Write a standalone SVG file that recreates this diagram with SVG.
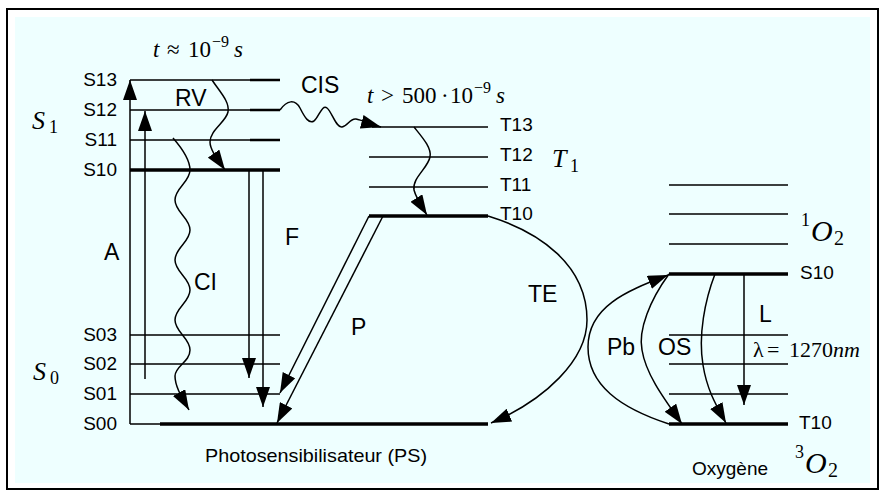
<svg xmlns="http://www.w3.org/2000/svg" width="885" height="491" viewBox="0 0 885 491">
<defs>
<marker id="ah" viewBox="0 0 20 14" refX="20" refY="7" markerWidth="20" markerHeight="14" markerUnits="userSpaceOnUse" orient="auto"><path d="M0,0 L20,7 L0,14 Z" fill="#000"/></marker>
</defs>
<style>
.lv{stroke:#000;stroke-width:1.5;fill:none}
.lvb{stroke:#000;stroke-width:3.5;fill:none}
.cn{stroke:#000;stroke-width:1.5;fill:none;marker-end:url(#ah)}
.lab{font-family:"Liberation Sans",Arial,sans-serif;font-size:19px;fill:#000}
.big{font-family:"Liberation Sans",Arial,sans-serif;font-size:23px;fill:#000}
.m{font-family:"Liberation Serif","Times New Roman",serif;font-style:italic;fill:#000}
.mu{font-family:"Liberation Serif","Times New Roman",serif;fill:#000}
</style>
<rect x="7" y="9" width="871" height="480" fill="#fff" stroke="#000" stroke-width="2"/>
<rect x="15" y="17" width="855" height="466" fill="#EEFFFF"/>

<g id="ps-singlet">
<path class="lv" d="M130,80H280M130,110H280M130,140H280"/>
<path stroke="#000" stroke-width="2.4" d="M250,80H280M250,110H280M250,140H280"/>
<path class="lvb" d="M130,170H280"/>
<text class="lab" x="117" y="86" text-anchor="end">S13</text>
<text class="lab" x="117" y="116" text-anchor="end">S12</text>
<text class="lab" x="117" y="146" text-anchor="end">S11</text>
<text class="lab" x="117" y="176" text-anchor="end">S10</text>
<text class="m" x="32" y="129" font-size="26">S</text><text class="mu" x="49" y="133" font-size="18">1</text>
</g>

<g id="ps-ground">
<path class="lv" d="M130,335H280M130,364H280M130,394H280M130,424H160"/>
<path class="lvb" d="M160,424H488"/>
<text class="lab" x="117" y="341" text-anchor="end">S03</text>
<text class="lab" x="117" y="370" text-anchor="end">S02</text>
<text class="lab" x="117" y="400" text-anchor="end">S01</text>
<text class="lab" x="117" y="430" text-anchor="end">S00</text>
<text class="m" x="33" y="380" font-size="26">S</text><text class="mu" x="50" y="384" font-size="18">0</text>
<text class="lab" x="205" y="462" textLength="222" lengthAdjust="spacingAndGlyphs">Photosensibilisateur (PS)</text>
</g>

<g id="ps-triplet">
<path class="lv" d="M372,127H488M369,157H488M369,187H488"/>
<path class="lvb" d="M369,216H488"/>
<text class="lab" x="500" y="131">T13</text>
<text class="lab" x="500" y="161">T12</text>
<text class="lab" x="500" y="191">T11</text>
<text class="lab" x="500" y="220">T10</text>
<text class="m" x="552" y="167" font-size="26">T</text><text class="mu" x="570" y="172" font-size="18">1</text>
</g>

<g id="o2-singlet">
<path class="lv" d="M669,185H788M669,214H788M669,244H788"/>
<path class="lvb" d="M669,274H788"/>
<text class="lab" x="800" y="279">S10</text>
<text class="mu" x="801" y="226" font-size="18">1</text><text class="m" x="811" y="241" font-size="30">O</text><text class="mu" x="834" y="245" font-size="20">2</text>
</g>

<g id="o2-triplet">
<path class="lv" d="M669,335H788M669,364H788M669,394H788"/>
<path class="lvb" d="M669,424H788"/>
<text class="lab" x="799" y="429">T10</text>
<text class="lab" x="692" y="475">Oxygène</text>
<text class="mu" x="795" y="458" font-size="18">3</text><text class="m" x="805" y="473" font-size="30">O</text><text class="mu" x="828" y="477" font-size="20">2</text>
</g>

<g id="connectors">
<path class="cn" d="M130,424V80"/>
<path class="cn" d="M145,379V111"/>
<path class="cn" d="M249,170V378"/>
<path class="cn" d="M263,170V407"/>
<path class="cn" d="M212,80C220,92 230,102 228,112C226,122 210,130 210,142C210,150 218,160 225,170"/>
<path class="cn" d="M173,138C180,146 190,158 190,170C190,182 175,188 175,200C175,212 190,218 190,230C190,242 175,248 175,260C175,272 190,278 190,290C190,302 175,308 175,320C175,332 190,338 190,350C190,362 175,366 175,376C175,386 181,396 189,410"/>
<path class="cn" d="M280,110C287,100 295,99 300,108C305,118 309,124 314,121C319,117 322,104 327,108C332,112 336,128 342,127C348,126 350,118 356,119C362,120 370,124 381,127"/>
<path class="cn" d="M414,127C422,137 432,148 430,157C428,168 412,178 414,190C416,198 422,207 427,215"/>
<path class="cn" d="M369,216L280,393"/>
<path class="cn" d="M383,216L277,423"/>
<path class="cn" d="M488,216C540,232 587,265 587,320C587,360 545,400 491,423"/>
<path class="cn" d="M669,424C620,408 588,385 588,347C588,305 630,290 668,275"/>
<path class="cn" d="M669,274C650,300 638,330 642,350C646,375 665,400 682,424"/>
<path class="cn" d="M715,274C705,300 698,335 703,365C707,390 716,405 726,423"/>
<path class="cn" d="M744,274V405"/>
</g>

<g id="labels">
<text class="big" x="175" y="106">RV</text>
<text class="big" x="301" y="93">CIS</text>
<text class="big" x="104" y="260">A</text>
<text class="big" x="194" y="290">CI</text>
<text class="big" x="285" y="245">F</text>
<text class="big" x="351" y="335">P</text>
<text class="big" x="528" y="302">TE</text>
<text class="big" x="607" y="355">Pb</text>
<text class="big" x="658" y="355">OS</text>
<text class="big" x="759" y="322">L</text>
<text class="m" x="153" y="57" font-size="23">t</text>
<text class="mu" x="167" y="57" font-size="23">≈</text>
<text class="mu" x="188" y="57" font-size="23">10</text>
<text class="mu" x="212" y="47" font-size="16">−9</text>
<text class="m" x="234" y="57" font-size="23">s</text>
<text class="m" x="367" y="103" font-size="23">t</text>
<text class="mu" x="381" y="103" font-size="23">&gt;</text>
<text class="mu" x="402" y="103" font-size="23">500</text>
<text class="mu" x="441" y="103" font-size="23">·</text>
<text class="mu" x="450" y="103" font-size="23">10</text>
<text class="mu" x="474" y="93" font-size="16">−9</text>
<text class="m" x="496" y="103" font-size="23">s</text>
<text class="mu" x="753" y="357" font-size="22">λ</text>
<text class="mu" x="767" y="357" font-size="22">=</text>
<text class="mu" x="789" y="357" font-size="22">1270</text>
<text class="m" x="833" y="357" font-size="22">nm</text>
</g>
</svg>
